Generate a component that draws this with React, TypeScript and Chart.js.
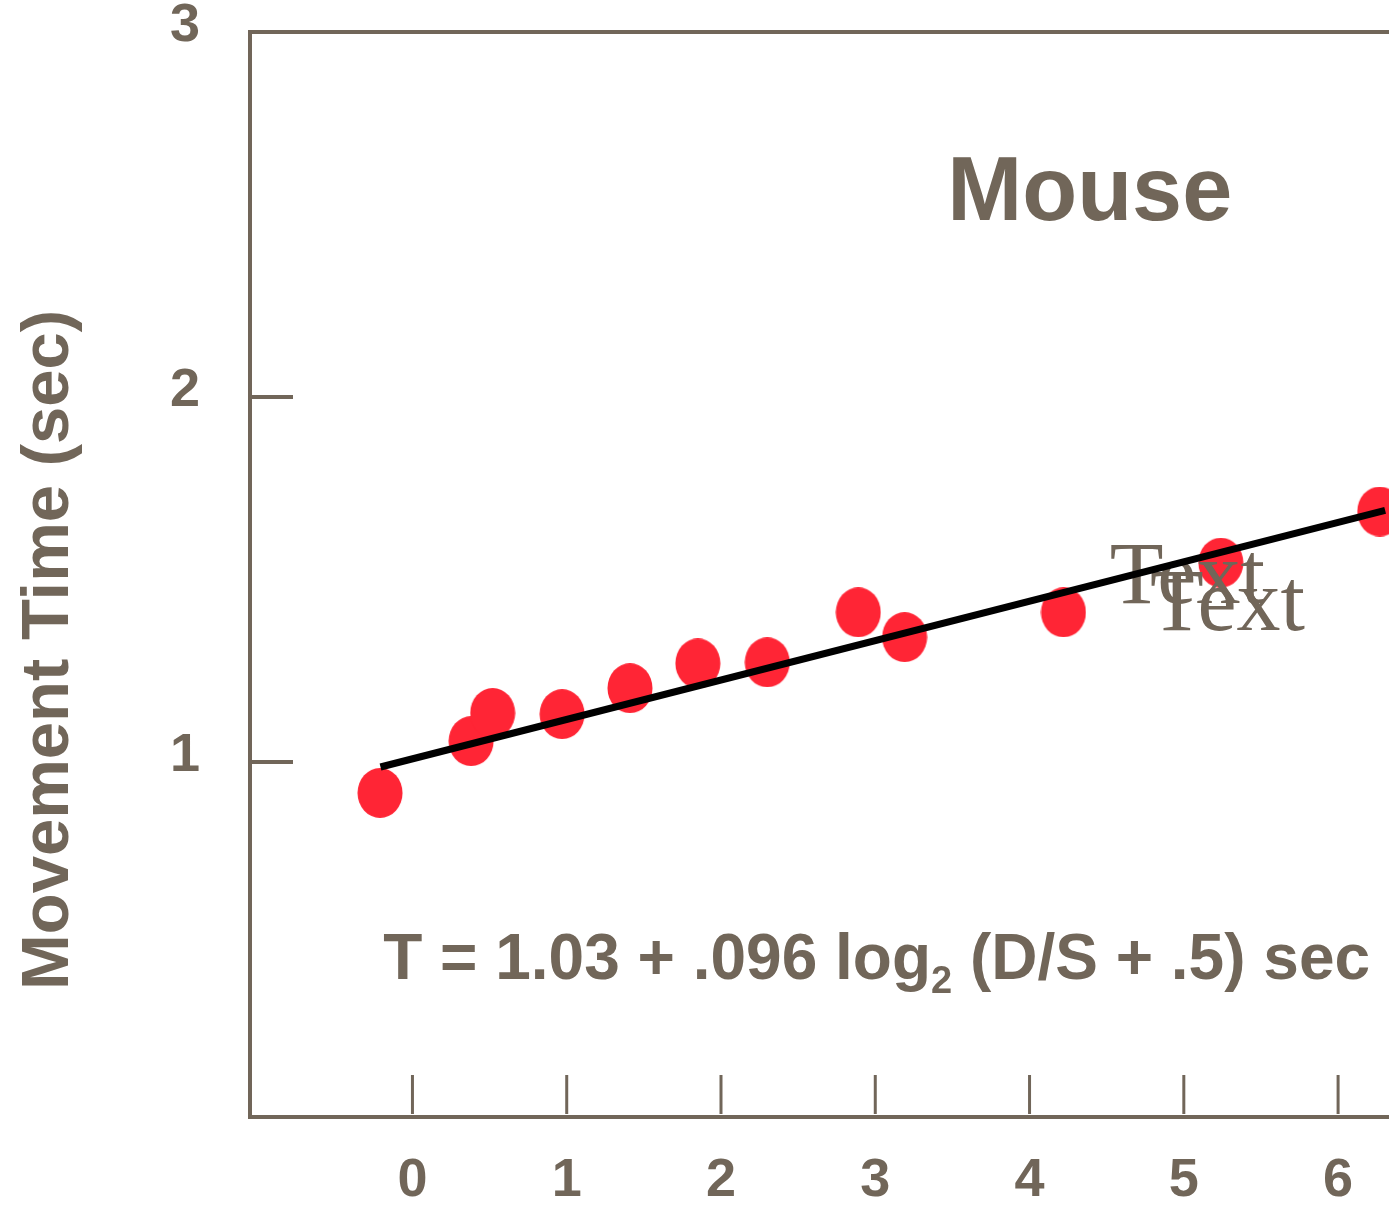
import React, { useEffect, useRef } from "react";
import { Chart, registerables } from "chart.js";

Chart.register(...registerables);

// ---- data ----
const pointX = [-0.21, 0.38, 0.52, 0.97, 1.41, 1.85, 2.30, 2.89, 3.19, 4.22, 5.24, 6.27];
const pointY = [0.915, 1.057, 1.134, 1.131, 1.202, 1.27, 1.273, 1.41, 1.342, 1.41, 1.546, 1.686];
const fitX = [-0.207, 6.305];
const fitY = [0.986, 1.689];
const xTickValues = [0, 1, 2, 3, 4, 5, 6];
const xTickLabels = ["0", "1", "2", "3", "4", "5", "6"];
const yTickValues = [1, 2, 3];
const yTickLabels = ["1", "2", "3"];
const titleText = "Mouse";
const yTitle = "Movement Time (sec)";
const eqMain = "T = 1.03 + .096 log";
const eqSub = "2";
const eqTail = " (D/S + .5) sec";
const strayText = "Text";

const INK = "#716659";
const RED = "#ff2535";
const SANS = '"Liberation Sans", Arial, sans-serif';
const SERIF = '"Liberation Serif", "Times New Roman", serif';

function makeEllipse(): HTMLCanvasElement {
  const c = document.createElement("canvas");
  c.width = 46;
  c.height = 50;
  const g = c.getContext("2d")!;
  g.fillStyle = RED;
  g.beginPath();
  g.ellipse(23, 25, 22.5, 25, 0, 0, Math.PI * 2);
  g.fill();
  return c;
}

const framePlugin = {
  id: "frame",
  beforeDatasetsDraw(chart: any) {
    const { ctx, chartArea, scales } = chart;
    const { left, top, bottom } = chartArea;
    const W = chart.width;
    ctx.save();
    ctx.strokeStyle = INK;
    ctx.lineWidth = 4;
    ctx.lineCap = "butt";
    ctx.beginPath();
    ctx.moveTo(W, top);
    ctx.lineTo(left, top);
    ctx.lineTo(left, bottom);
    ctx.lineTo(W, bottom);
    ctx.stroke();
    // x ticks (pointing inward)
    ctx.lineWidth = 3;
    xTickValues.forEach((v) => {
      const px = scales.x.getPixelForValue(v);
      ctx.beginPath();
      ctx.moveTo(px, bottom - 3);
      ctx.lineTo(px, bottom - 42);
      ctx.stroke();
    });
    // y ticks
    ctx.lineWidth = 4;
    yTickValues.forEach((v) => {
      if (v >= scales.y.max) return;
      const py = scales.y.getPixelForValue(v);
      ctx.beginPath();
      ctx.moveTo(left, py);
      ctx.lineTo(left + 43, py);
      ctx.stroke();
    });
    ctx.restore();
  },
  afterDatasetDraw(chart: any, args: any) {
    if (args.index !== 1) return;
    const { ctx, scales } = chart;
    ctx.save();
    ctx.fillStyle = INK;
    ctx.font = `88px ${SERIF}`;
    ctx.textAlign = "left";
    ctx.textBaseline = "alphabetic";
    ctx.fillText(strayText, scales.x.getPixelForValue(4.52), scales.y.getPixelForValue(1.436));
    ctx.fillText(strayText, scales.x.getPixelForValue(4.78), scales.y.getPixelForValue(1.362));
    ctx.restore();
  },
  afterDraw(chart: any) {
    const { ctx, scales, chartArea } = chart;
    ctx.save();
    ctx.fillStyle = INK;
    // x tick labels
    ctx.font = `bold 54px ${SANS}`;
    ctx.textAlign = "center";
    ctx.textBaseline = "middle";
    xTickValues.forEach((v, i) => {
      ctx.fillText(xTickLabels[i], scales.x.getPixelForValue(v), chartArea.bottom + 64);
    });
    // y tick labels
    yTickValues.forEach((v, i) => {
      ctx.fillText(yTickLabels[i], chartArea.left - 65, scales.y.getPixelForValue(v) - 6);
    });
    // y title
    ctx.save();
    ctx.translate(68, 650);
    ctx.rotate(-Math.PI / 2);
    ctx.font = `bold 67px ${SANS}`;
    ctx.textAlign = "center";
    ctx.textBaseline = "alphabetic";
    ctx.fillText(yTitle, 0, 0);
    ctx.restore();
    // Mouse title
    ctx.font = `bold 90px ${SANS}`;
    ctx.textAlign = "center";
    ctx.textBaseline = "alphabetic";
    ctx.fillText(titleText, scales.x.getPixelForValue(4.39), scales.y.getPixelForValue(2.485));
    // equation
    ctx.textAlign = "left";
    let ex = scales.x.getPixelForValue(-0.19);
    const ey = scales.y.getPixelForValue(0.405);
    ctx.font = `bold 64px ${SANS}`;
    ctx.fillText(eqMain, ex, ey);
    ex += ctx.measureText(eqMain).width;
    ctx.font = `bold 38px ${SANS}`;
    ctx.fillText(eqSub, ex, ey + 14);
    ex += ctx.measureText(eqSub).width;
    ctx.font = `bold 64px ${SANS}`;
    ctx.fillText(eqTail, ex, ey);
    ctx.restore();
  },
};

export default function App() {
  const ref = useRef<HTMLCanvasElement | null>(null);
  useEffect(() => {
    if (!ref.current) return;
    const ellipse = makeEllipse();
    const chart = new Chart(ref.current, {
      type: "scatter",
      data: {
        datasets: [
          {
            type: "line",
            data: fitX.map((x, i) => ({ x, y: fitY[i] })),
            borderColor: "#000000",
            borderWidth: 7,
            pointRadius: 0,
            showLine: true,
            fill: false,
          } as any,
          {
            data: pointX.map((x, i) => ({ x, y: pointY[i] })),
            pointStyle: ellipse,
            pointRadius: 23,
            backgroundColor: RED,
            borderWidth: 0,
          } as any,
        ],
      },
      plugins: [framePlugin],
      options: {
        animation: false,
        responsive: false,
        maintainAspectRatio: false,
        devicePixelRatio: 1,
        layout: { autoPadding: false, padding: { left: 250, top: 32, right: 0, bottom: 89 } },
        plugins: { legend: { display: false }, tooltip: { enabled: false } },
        scales: {
          x: { type: "linear", min: -1.053, max: 6.33, display: false },
          y: { type: "linear", min: 0.027, max: 3, display: false },
        },
      } as any,
    });
    return () => chart.destroy();
  }, []);
  return (
    <div style={{ position: "fixed", left: 0, top: 0, width: 1389, height: 1206, background: "#fff" }}>
      <canvas ref={ref} width={1389} height={1206} style={{ width: 1389, height: 1206 }} />
    </div>
  );
}
